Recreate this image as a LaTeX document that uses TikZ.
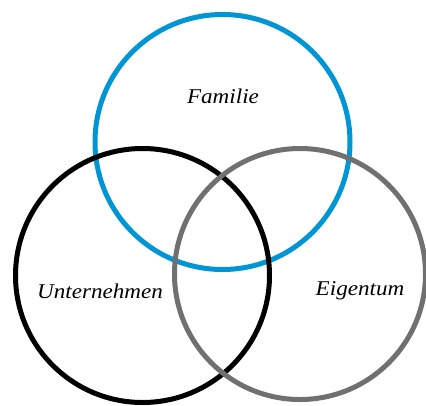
\documentclass[tikz,border=0pt]{standalone}
\usepackage{fontspec}
\setmainfont{Liberation Serif}
\definecolor{vblue}{RGB}{0,149,213}
\definecolor{vgray}{RGB}{112,112,112}
\begin{document}
\begin{tikzpicture}[x=1pt,y=-1pt,
  ring/.style={line width=5pt},
  lbl/.style={font=\itshape\fontsize{21}{24}\selectfont, inner sep=0pt, xscale=1.1}]
\useasboundingbox (0,0) rectangle (426,405);
\draw[ring, vblue] (222.5,142) circle (127.5);
\draw[ring, black] (142.5,275.5) circle (127);
\draw[ring, vgray] (300,274) circle (125.5);
\node[lbl] (fam) at (223,96) {Familie};
\node[lbl] (unt) at (100,291) {Unternehmen};
\node[lbl] (eig) at (360,291) {Eigentum};
\end{tikzpicture}
\end{document}
